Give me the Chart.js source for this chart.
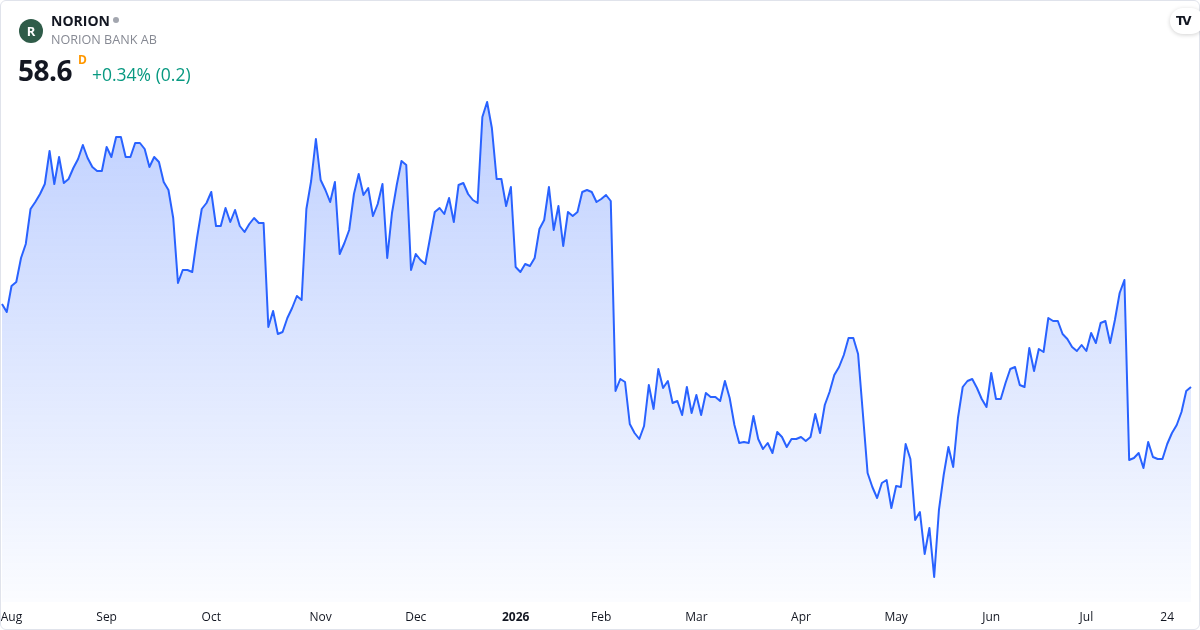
<!DOCTYPE html>
<html>
<head>
<meta charset="utf-8">
<script src="https://cdn.jsdelivr.net/npm/chart.js@4.4.1/dist/chart.umd.min.js"></script>
<style>
  html, body { margin: 0; padding: 0; background: #fff; }
  body { width: 1200px; height: 630px; position: relative; overflow: hidden; font-family: "Open Sans", "Noto Sans", sans-serif; }
  .frame { position: absolute; left: 0; top: 0; width: 1198px; height: 628px; border: 1px solid #e0e3eb; border-radius: 6px; }
  .chart-box { position: absolute; left: 0; top: 0; width: 1200px; height: 630px; }
  .logo { position: absolute; left: 19px; top: 19px; width: 24px; height: 24px; border-radius: 50%; background: #2f5c49; color: #fff; font: bold 13px "Open Sans", sans-serif; text-align: center; line-height: 24px; }
  .ticker { position: absolute; left: 51px; top: 11px; font: bold 14px "Open Sans", sans-serif; color: #131722; }
  .dot { position: absolute; left: 113px; top: 17px; width: 6px; height: 6px; border-radius: 50%; background: #a3a6af; }
  .name { position: absolute; left: 51px; top: 31px; font: 12.6px "Open Sans", sans-serif; color: #868993; }
  .price { position: absolute; left: 18px; top: 51px; font: bold 28px "Open Sans", sans-serif; color: #131722; letter-spacing: -0.5px; }
  .iv { position: absolute; left: 78px; top: 51px; font: bold 12px "Open Sans", sans-serif; color: #ff9800; }
  .chg { position: absolute; left: 92px; top: 62px; font: 17.5px "Open Sans", sans-serif; color: #089981; }
  .tv { position: absolute; left: 1170px; top: 8px; width: 34px; height: 26px; border-radius: 13px; background: #fff; box-shadow: 0 1px 4px rgba(0,0,0,0.18); font: 900 12px "DejaVu Sans", sans-serif; color: #131722; line-height: 26px; text-indent: 6px; letter-spacing: -2px; }
</style>
</head>
<body>
<div class="chart-box"><canvas id="chart"></canvas></div>
<div class="frame"></div>
<div class="logo">R</div>
<div class="ticker">NORION</div>
<div class="dot"></div>
<div class="name">NORION BANK AB</div>
<div class="price">58.6</div>
<div class="iv">D</div>
<div class="chg">+0.34% (0.2)</div>
<div class="tv">TV</div>
<script>
// daglig stängningskurs, aug 2025 - jul 2026
const closes = [
  62.75, 62.35, 63.65, 63.85, 65.05, 65.75, 67.5, 67.85, 68.25, 68.75,
  70.4, 68.75, 70.1, 68.8, 69.0, 69.55, 70.0, 70.7, 70.05, 69.6,
  69.4, 69.4, 70.6, 70.1, 71.1, 71.1, 70.1, 70.1, 70.8, 70.8,
  70.5, 69.6, 70.1, 69.85, 68.85, 68.45, 67.05, 63.8, 64.45, 64.45,
  64.35, 66.05,
  67.5, 67.8, 68.35, 66.65, 66.65, 67.55, 66.85, 67.45, 66.65, 66.35,
  66.75, 67.05, 66.8, 66.8, 61.6, 62.4, 61.25, 61.35, 62.05, 62.55,
  63.15, 62.95, 67.5, 68.9, 71.0, 68.95, 68.45, 67.85, 68.85, 65.25,
  65.8, 66.45, 68.25, 69.25, 68.2, 68.55, 67.15, 67.75, 68.75, 65.05,
  67.3, 68.7,
  69.9, 69.7, 64.45, 65.25, 64.95, 64.75, 66.05, 67.35, 67.55, 67.25,
  68.05, 66.85, 68.7, 68.8, 68.25, 67.95, 67.8, 72.1, 72.85, 71.55,
  69.0, 69.0, 67.65, 68.6, 64.6, 64.35, 64.75, 64.65, 65.05, 66.5,
  66.95, 68.6, 66.45, 67.65, 65.65, 67.35, 67.15, 67.35, 68.35, 68.45,
  68.35, 67.85, 68.0, 68.2, 67.9, 58.4,
  59.0, 58.85, 56.75, 56.3, 56.0, 56.65, 58.7, 57.5, 59.5, 58.55,
  58.9, 57.8, 57.9, 57.2, 58.6, 57.3, 58.2, 57.2, 58.3, 58.1,
  58.1, 57.9, 58.9, 58.05, 56.7, 55.8, 55.85, 55.8, 57.15, 56.0,
  55.5, 55.8, 55.3, 56.35, 56.1, 55.6, 56.0, 56.0, 56.1, 55.9,
  56.1, 57.25, 56.3,
  57.7, 58.35, 59.2, 59.6, 60.2, 61.05, 61.05, 60.25, 57.3, 54.3,
  53.6, 53.05, 53.8, 53.95, 52.55, 53.65, 53.6, 55.75, 55.0, 51.95,
  52.35, 50.25, 51.55, 49.1, 52.45, 54.2, 55.6, 54.6, 57.05, 58.6,
  58.9, 59.0, 58.55, 58.0, 57.6, 59.3, 58.0, 58.0, 58.8,
  59.5, 59.6, 58.7, 58.6, 60.55, 59.4, 60.5, 60.35, 62.05, 61.9,
  61.9, 61.25, 61.0, 60.6, 60.4, 60.7, 60.4, 61.3, 60.8, 61.8,
  61.9, 60.8, 61.95, 63.3, 63.95, 54.95, 55.05, 55.3, 54.55, 55.85,
  55.1, 55.0, 55.0, 55.75, 56.3, 56.7, 57.35, 58.4, 58.6
];

// axeletiketter och vilken handelsdag de hör till
const tickLabels = ['Aug', 'Sep', 'Oct', 'Nov', 'Dec', '2026', 'Feb', 'Mar', 'Apr', 'May', 'Jun', 'Jul', '24'];
const tickDays = [2, 22, 44, 67, 87, 108, 126, 146, 168, 188, 208, 228, 245];

const priceMin = 47.85;
const priceMax = 73.2;

const ctx = document.getElementById('chart').getContext('2d');

new Chart(ctx, {
    type: 'line',
    data: {
        labels: closes.map((_, i) => i),
        datasets: [{
            data: closes,
            borderColor: '#2962ff',
            borderWidth: 2,
            borderJoinStyle: 'round',
            pointRadius: 0,
            tension: 0,
            fill: 'start',
            backgroundColor: (c) => {
                const area = c.chart.chartArea;
                if (!area) return 'rgba(41,98,255,0.2)';
                const g = c.chart.ctx.createLinearGradient(0, area.top, 0, area.bottom);
                g.addColorStop(0, 'rgba(41,98,255,0.30)');
                g.addColorStop(1, 'rgba(41,98,255,0.02)');
                return g;
            }
        }]
    },
    options: {
        responsive: true,
        maintainAspectRatio: false,
        animation: false,
        devicePixelRatio: 1,
        layout: { padding: { left: 2, right: 9, top: 95, bottom: 0 } },
        plugins: { legend: { display: false }, tooltip: { enabled: false } },
        scales: {
            x: {
                offset: false,
                grid: { display: false, drawTicks: false },
                border: { display: false },
                afterBuildTicks: (axis) => {
                    axis.ticks = tickDays.map(d => ({ value: d }));
                },
                afterFit: (axis) => {
                    // etiketterna får sticka ut, plotytan ska gå kant i kant
                    axis.paddingLeft = 0;
                    axis.paddingRight = 0;
                    axis.height = 28;
                },
                ticks: {
                    autoSkip: false,
                    maxRotation: 0,
                    padding: 8,
                    color: '#131722',
                    font: (c) => ({
                        family: '"Open Sans", sans-serif',
                        size: 12,
                        weight: c.tick && c.tick.label === '2026' ? 'bold' : 'normal'
                    }),
                    callback: (value) => {
                        const i = tickDays.indexOf(value);
                        return i >= 0 ? tickLabels[i] : '';
                    }
                }
            },
            y: {
                display: false,
                min: priceMin,
                max: priceMax
            }
        }
    }
});
</script>
</body>
</html>
